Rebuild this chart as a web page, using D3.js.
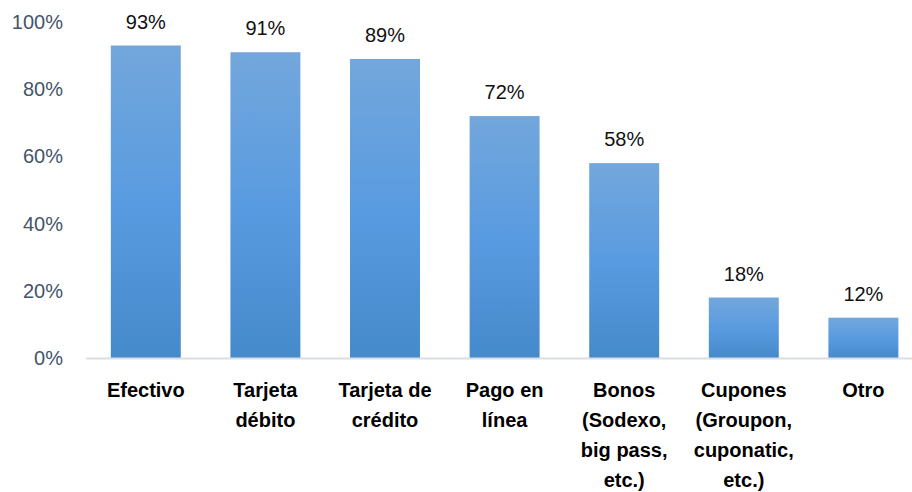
<!DOCTYPE html>
<html>
<head>
<meta charset="utf-8">
<script src="https://cdn.jsdelivr.net/npm/d3@7"></script>
<style>
  html, body { margin: 0; padding: 0; background: #fff; }
  svg { display: block; font-family: "Liberation Sans", Arial, sans-serif; }
</style>
</head>
<body>
<svg id="chart" width="912" height="492"></svg>
<script>
// Medios de pago utilizados (% de encuestados)
const categories = [
  ["Efectivo"],
  ["Tarjeta", "débito"],
  ["Tarjeta de", "crédito"],
  ["Pago en", "línea"],
  ["Bonos", "(Sodexo,", "big pass,", "etc.)"],
  ["Cupones", "(Groupon,", "cuponatic,", "etc.)"],
  ["Otro"]
];
const values = [93, 91, 89, 72, 58, 18, 12];
const yTicks = [0, 20, 40, 60, 80, 100];

const svg = d3.select("#chart");
const margin = { left: 86, top: 22, bottom: 358 };

const keys = categories.map((c, i) => i);
const x = d3.scaleBand()
  .domain(keys)
  .range([margin.left, margin.left + 7 * 119.6])
  .paddingInner(0.415)
  .paddingOuter(0.2075);

const y = d3.scaleLinear().domain([0, 100]).range([margin.bottom, margin.top]);

// bar fill: light at the top, deeper blue at the base
const defs = svg.append("defs");
const grad = defs.append("linearGradient")
  .attr("id", "barFill")
  .attr("x1", 0).attr("y1", 0).attr("x2", 0).attr("y2", 1);
grad.append("stop").attr("offset", "0%").attr("stop-color", "#73a7dc");
grad.append("stop").attr("offset", "50%").attr("stop-color", "#599be0");
grad.append("stop").attr("offset", "100%").attr("stop-color", "#458acb");

// y axis labels
const yAxis = d3.axisLeft(y)
  .tickValues(yTicks)
  .tickFormat(d => d + "%")
  .tickSize(0)
  .tickPadding(0);
const yG = svg.append("g")
  .attr("transform", `translate(63,0)`)
  .call(yAxis);
yG.select(".domain").remove();
yG.selectAll("text")
  .attr("fill", "#44546a")
  .style("font-size", "20px")
  .style("font-family", "'Liberation Sans', Arial, sans-serif");

// bars
svg.append("g").selectAll("rect")
  .data(values)
  .join("rect")
  .attr("x", (d, i) => x(i))
  .attr("width", x.bandwidth())
  .attr("y", d => y(d))
  .attr("height", d => y(0) - y(d))
  .attr("fill", "url(#barFill)");

// baseline
svg.append("line")
  .attr("x1", margin.left).attr("x2", 912)
  .attr("y1", y(0) + 0.5).attr("y2", y(0) + 0.5)
  .attr("stroke", "#d9dee5")
  .attr("stroke-width", 2);

// value labels
svg.append("g").selectAll("text")
  .data(values)
  .join("text")
  .attr("x", (d, i) => x(i) + x.bandwidth() / 2)
  .attr("y", d => y(d) - 17)
  .attr("text-anchor", "middle")
  .attr("fill", "#111")
  .style("font-size", "20px")
  .text(d => d + "%");

// category labels
const catG = svg.append("g").selectAll("text")
  .data(categories)
  .join("text")
  .attr("x", (d, i) => x(i) + x.bandwidth() / 2)
  .attr("y", 397)
  .attr("text-anchor", "middle")
  .attr("fill", "#000")
  .style("font-size", "20px")
  .style("font-weight", "bold");
catG.selectAll("tspan")
  .data(d => d)
  .join("tspan")
  .attr("x", function () { return d3.select(this.parentNode).attr("x"); })
  .attr("dy", (d, i) => i === 0 ? 0 : 30)
  .text(d => d);
</script>
</body>
</html>
